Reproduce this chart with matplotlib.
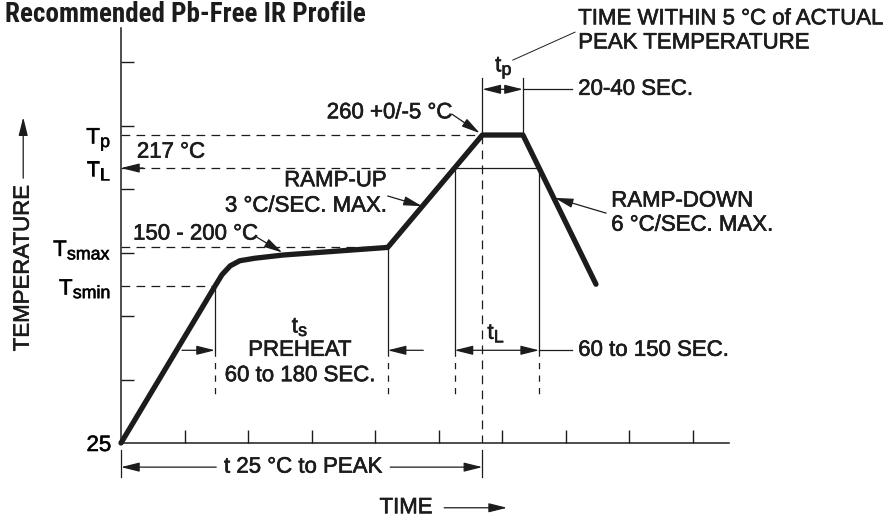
import matplotlib
matplotlib.use("Agg")
import matplotlib.pyplot as plt
import matplotlib.patheffects as pe
import numpy as np

try:
    # bigger subscripts, closer to the drawing's lettering
    import matplotlib._mathtext as _mt
    _mt.SHRINK_FACTOR = 0.8
except Exception:
    pass

# Reflow profile (arbitrary units: one tick = 1 unit on each axis)
time_pts = [0, 1.48, 1.59, 1.72, 1.87, 2.11, 2.55, 4.20, 5.69, 6.33, 7.48]
temp_pts = [0, 2.47, 2.65, 2.79, 2.87, 2.91, 2.96, 3.08, 4.85, 4.85, 2.50]

# temperature levels
T_SMIN, T_SMAX, T_L, T_P = 2.47, 3.08, 4.33, 4.85
level_vals = [0, T_SMIN, T_SMAX, T_L, T_P]
level_labels = ["25", r"T$_{smin}$", r"T$_{smax}$", r"T$_{L}$", r"T$_{p}$"]

# time marks
t_smin, t_smax, t_peak, t_peak_end = 1.48, 4.20, 5.69, 6.33
x_ticks = list(range(1, 10))
y_ticks = list(range(1, 7))

# where the ramps cross T_L
tL_start = np.interp(T_L, temp_pts[7:9], time_pts[7:9])
tL_end = np.interp(T_L, temp_pts[10:8:-1], time_pts[10:8:-1])

INK = "#1c1c1c"
FS = 16
plt.rcParams.update({
    "font.family": ["Liberation Sans", "DejaVu Sans"],
    "font.size": FS,
    "mathtext.default": "regular",
    "text.color": INK,
})

fig = plt.figure(figsize=(8.83, 5.18), dpi=100)
ax = fig.add_axes([121 / 883, 75 / 518, 608 / 883, 415 / 518])
ax.set_xlim(0, 608 / 63.5)
ax.set_ylim(0, 415 / 63.5)

for s in ["top", "right"]:
    ax.spines[s].set_visible(False)
for s in ["left", "bottom"]:
    ax.spines[s].set_linewidth(1.1)
    ax.spines[s].set_color(INK)

ax.set_xticks(x_ticks, labels=[""] * len(x_ticks))
ax.set_yticks(y_ticks, labels=[""] * len(y_ticks))
ax.tick_params(which="major", direction="in", length=9.5, width=1.0, color=INK)
ax.set_yticks(level_vals, labels=level_labels, minor=True)
ax.tick_params(axis="y", which="minor", length=0, pad=7, labelsize=FS)

dash = (0, (7, 5))
thin = 0.9


def arrow(x0, y0, x1, y1, style="-|>"):
    ax.annotate("", xy=(x1, y1), xytext=(x0, y0), annotation_clip=False,
                arrowprops=dict(arrowstyle=style + ",head_length=0.8,head_width=0.2",
                                mutation_scale=14, lw=thin, color=INK,
                                shrinkA=0, shrinkB=0))


# dashed level lines
ax.plot([0, t_peak], [T_P, T_P], ls=dash, lw=thin, color=INK)
ax.plot([0, tL_start], [T_L, T_L], ls=dash, lw=thin, color=INK)
ax.plot([tL_start, tL_end], [T_L, T_L], lw=thin, color=INK)
ax.plot([0, t_smax], [T_SMAX, T_SMAX], ls=dash, lw=thin, color=INK)
ax.plot([0, t_smin], [T_SMIN, T_SMIN], ls=dash, lw=thin, color=INK)
arrow(0.35, T_L, 0, T_L)

# vertical markers
row = 1.46
for xv, top in [(t_smin, T_SMIN), (t_smax, T_SMAX), (tL_start, T_L), (tL_end, T_L)]:
    ax.plot([xv, xv], [top, row], lw=thin, color=INK)
    ax.plot([xv, xv], [row, 0.76], ls=(0, (5, 5)), lw=thin, color=INK)
ax.plot([t_peak, t_peak], [T_P, 0], ls=dash, lw=thin, color=INK)
for xv in [0, t_peak]:
    ax.plot([xv, xv], [-0.11, -0.54], lw=thin, color=INK, clip_on=False)

# profile
ax.plot(time_pts, temp_pts, lw=3.8, color=INK, solid_capstyle="round",
        solid_joinstyle="round", clip_on=False, zorder=5)

# tp
for xv in [t_peak, t_peak_end]:
    ax.plot([xv, xv], [T_P, 5.75], lw=thin, color=INK, clip_on=False)
arrow(t_peak, 5.57, t_peak_end, 5.57, style="<|-|>")
ax.plot([t_peak_end, 7.10], [5.57, 5.57], lw=thin, color=INK, clip_on=False)
ax.text(6.03, 5.91, r"t$_{p}$", ha="center", va="center")
ax.text(7.20, 5.57, "20-40 SEC.", ha="left", va="center")
ax.plot([6.17, 7.15], [6.03, 6.47], lw=0.7, color=INK, clip_on=False)
ax.text(7.20, 6.68, "TIME WITHIN 5 °C of ACTUAL", ha="left", va="center")
ax.text(7.20, 6.30, "PEAK TEMPERATURE", ha="left", va="center")

# peak
ax.text(3.24, 5.20, "260 +0/-5 °C", ha="left", va="center")
arrow(5.21, 5.18, 5.65, 4.88)
ax.text(0.25, 4.58, "217 °C", ha="left", va="center")

# ramp-up
ax.text(4.19, 4.13, "RAMP-UP", ha="right", va="center")
ax.text(4.19, 3.73, "3 °C/SEC. MAX.", ha="right", va="center")
arrow(4.20, 3.89, 4.74, 3.73)

# soak
ax.text(0.19, 3.29, "150 - 200 °C", ha="left", va="center")
arrow(2.14, 3.24, 2.54, 3.00)

# ramp-down
ax.text(7.72, 3.81, "RAMP-DOWN", ha="left", va="center")
ax.text(7.72, 3.43, "6 °C/SEC. MAX.", ha="left", va="center")
arrow(7.64, 3.62, 6.83, 3.86)

# preheat
arrow(0.96, row, t_smin, row)
arrow(4.76, row, t_smax, row)
ax.text(2.82, 1.83, r"t$_{s}$", ha="center", va="center")
ax.text(2.82, row, "PREHEAT", ha="center", va="center")
ax.text(2.82, 1.06, "60 to 180 SEC.", ha="center", va="center")

# time above liquidus
arrow(tL_start, row, tL_end, row, style="<|-|>")
ax.plot([tL_end, 7.10], [row, row], lw=thin, color=INK)
ax.text(5.91, 1.73, r"t$_{L}$", ha="center", va="center")
ax.text(7.20, row, "60 to 150 SEC.", ha="left", va="center")

# 25 C to peak
ax.text(2.87, -0.38, "t 25 °C to PEAK", ha="center", va="center")
arrow(1.50, -0.38, 0, -0.38)
arrow(4.24, -0.38, t_peak, -0.38)

# axis titles
ax.text(4.49, -1.02, "TIME", ha="center", va="center")
arrow(5.09, -1.02, 6.08, -1.02)
ax.text(-1.54, 2.76, "TEMPERATURE", ha="center", va="center", rotation=90)
arrow(-1.54, 4.17, -1.54, 5.13)

# slightly heavier lettering, like the printed drawing
for t in fig.findobj(matplotlib.text.Text):
    t.set_path_effects([pe.withStroke(linewidth=0.45, foreground=INK)])

fig.text(5 / 883, 1 - 22 / 518, "Recommended Pb-Free IR Profile",
         family=["Noto Sans Condensed", "Liberation Sans Narrow",
                 "Roboto Condensed", "Roboto"],
         fontstretch="condensed", weight="bold", fontsize=19.5,
         ha="left", va="baseline")

fig.savefig("out.png", dpi=100, facecolor="white")
